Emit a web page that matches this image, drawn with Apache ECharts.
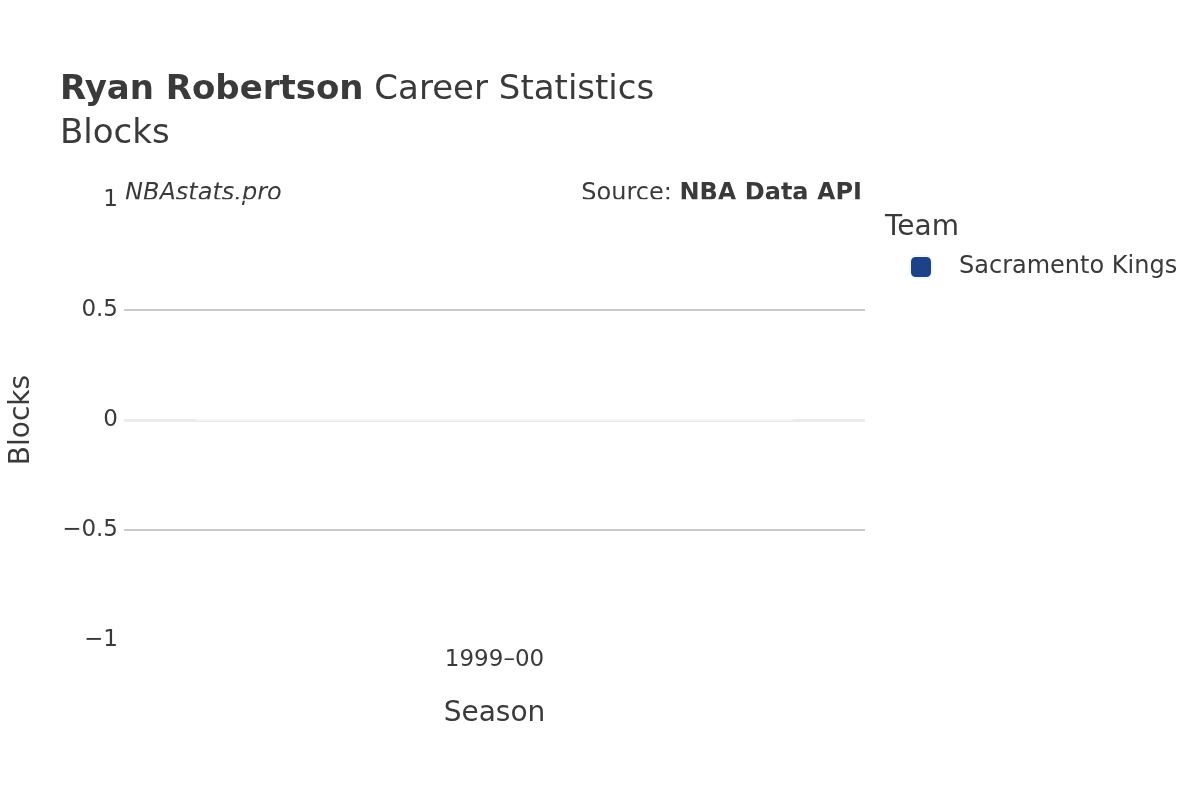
<!DOCTYPE html>
<html>
<head>
<meta charset="utf-8">
<script src="https://cdn.jsdelivr.net/npm/echarts@6/dist/echarts.min.js"></script>
<style>
  html, body { margin: 0; padding: 0; background: #fff; }
  #chart { width: 1200px; height: 800px; }
</style>
</head>
<body>
<div id="chart"></div>
<script>
const seasons = ['1999–00'];
const teams = ['Sacramento Kings'];
const blocks = [0];
const teamColors = ['#1d428a'];
const yTicks = [-1, -0.5, 0, 0.5, 1];

const font = 'DejaVu Sans';
const chart = echarts.init(document.getElementById('chart'));

const option = {
    backgroundColor: '#fff',
    textStyle: { fontFamily: font },
    title: {
        text: '{b|Ryan Robertson} Career Statistics\nBlocks',
        left: 60,
        top: 68,
        padding: 0,
        textStyle: {
            fontFamily: font,
            fontSize: 34,
            fontWeight: 'normal',
            color: '#3a3a3a',
            lineHeight: 44,
            rich: {
                b: { fontFamily: font, fontSize: 34, fontWeight: 'bold', color: '#3a3a3a', lineHeight: 44 }
            }
        }
    },
    legend: {
        data: teams,
        orient: 'vertical',
        left: 904,
        top: 250,
        icon: 'roundRect',
        itemWidth: 22,
        itemHeight: 22,
        itemGap: 10,
        textStyle: { fontFamily: font, fontSize: 24, color: '#3a3a3a', padding: [0, 0, 0, 22] }
    },
    grid: {
        left: 120,
        right: 335,
        top: 200,
        bottom: 160,
        containLabel: false
    },
    xAxis: {
        type: 'category',
        data: seasons,
        name: 'Season',
        nameLocation: 'middle',
        nameGap: 60,
        nameTextStyle: { fontFamily: font, fontSize: 28, color: '#3a3a3a' },
        axisLine: { show: false },
        axisTick: { show: false },
        axisLabel: { fontFamily: font, fontSize: 23, color: '#3a3a3a', margin: 9 }
    },
    yAxis: {
        type: 'value',
        min: yTicks[0],
        max: yTicks[yTicks.length - 1],
        interval: 0.5,
        name: 'Blocks',
        nameLocation: 'middle',
        nameGap: 88,
        nameTextStyle: { fontFamily: font, fontSize: 28, color: '#3a3a3a' },
        axisLine: { show: false },
        axisTick: { show: false },
        axisLabel: {
            fontFamily: font,
            fontSize: 23,
            color: '#3a3a3a',
            margin: 6,
            padding: [4, 0, 0, 0],
            formatter: function (v) {
                return String(v).replace('-', '\u2212');
            }
        },
        splitLine: {
            lineStyle: {
                color: ['#ffffff', '#b8b8b8', '#ebebeb', '#b8b8b8', '#ffffff'],
                width: 1.5
            }
        }
    },
    series: [
        {
            name: teams[0],
            type: 'bar',
            data: blocks,
            barWidth: '80.5%',
            itemStyle: { color: teamColors[0], borderColor: '#f6f6f6', borderWidth: 1 },
            markLine: {
                silent: true,
                symbol: 'none',
                label: { show: false },
                lineStyle: { color: '#ebebeb', width: 3, type: 'solid' },
                data: [{ yAxis: 0 }],
                z: 1
            },
            z: 3
        }
    ],
    graphic: [
        {
            type: 'text',
            left: 125,
            top: 182,
            style: { text: 'NBAstats.pro', font: 'italic 24px "DejaVu Sans"', fill: '#3a3a3a' }
        },
        {
            type: 'text',
            right: 338,
            top: 182,
            style: {
                text: 'Source: {b|NBA Data API}',
                font: '24px "DejaVu Sans"',
                fill: '#3a3a3a',
                rich: { b: { font: 'bold 24px "DejaVu Sans"', fill: '#3a3a3a' } }
            }
        },
        {
            type: 'text',
            left: 885,
            top: 214,
            style: { text: 'Team', font: '28px "DejaVu Sans"', fill: '#3a3a3a' }
        }
    ]
};

chart.setOption(option);
</script>
</body>
</html>
